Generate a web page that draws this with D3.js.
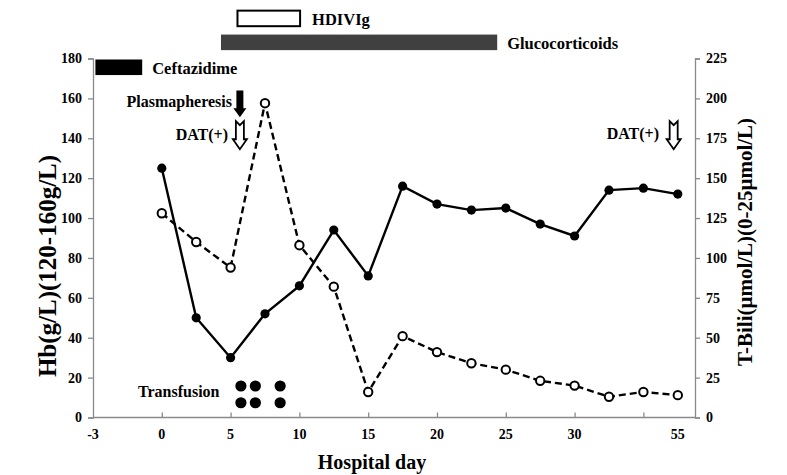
<!DOCTYPE html>
<html><head><meta charset="utf-8">
<script src="https://cdn.jsdelivr.net/npm/d3@7"></script>
<style>
html,body{margin:0;padding:0;background:#fff;}
svg text{font-family:"Liberation Serif","Times New Roman",serif;font-weight:bold;fill:#000;}
</style></head>
<body><svg id="c" width="787" height="475"></svg>
<script>
// ---- data ----
const pointIndex = [0,1,2,3,4,5,6,7,8,9,10,11,12,13,14,15];
const hb   = [125,50,30,52,66,94,71,116,107,104,105,97,91,114,115,112];
const tbil = [128,110,94,197,108,82,16,51,41,34,30,23,20,13,16,14];
const xTickLabels = ["-3","0","5","10","15","20","25","30","55"];
const xTickLabelPos = [-2,0,2,4,6,8,10,12,15];
const xTickMarks = [0,2,4,6,8,10,12,14];
const hbTicks = [0,20,40,60,80,100,120,140,160,180];
const bilTicks = [0,25,50,75,100,125,150,175,200,225];
// treatments: [start,end] in point-index units, vertical slot in Hb units
const treatNames = ["HDIVIg","Glucocorticoids","Ceftazidime"];
const treatStart = [2.2,1.72,-1.93];
const treatEnd   = [4.02,9.75,-0.57];
const treatTop   = [204,192,179.5];
const treatFill  = ["#fff","#404040","#000"];
const transX = [2.3,2.72,3.44,2.3,2.72,3.44];
const transY = [15.8,15.8,15.8,7.4,7.4,7.4];

const svg = d3.select("#c");
const x = d3.scaleLinear().domain([-2,15.5]).range([93,695]);
const yL = d3.scaleLinear().domain([0,180]).range([417.5,58.5]);
const yR = d3.scaleLinear().domain([0,225]).range([417.5,58.5]);
const axisCol = "#8a8a8a";

// axes
const gL = svg.append("g").attr("transform","translate(93,0)")
  .call(d3.axisLeft(yL).tickValues(hbTicks).tickSize(5).tickPadding(6));
const gR = svg.append("g").attr("transform","translate(695,0)")
  .call(d3.axisRight(yR).tickValues(bilTicks).tickSize(5).tickPadding(6));
const gX = svg.append("g").attr("transform","translate(0,417.5)")
  .call(d3.axisBottom(x).tickValues(xTickMarks).tickSize(-5).tickFormat(""));
[gL,gR,gX].forEach(g=>{
  g.selectAll(".domain").attr("stroke",axisCol).attr("stroke-width",1.3);
  g.selectAll(".tick line").attr("stroke",axisCol).attr("stroke-width",1.3);
  g.selectAll("text").attr("font-size",14).attr("font-family","Liberation Serif").attr("font-weight","bold").attr("fill","#000");
});
gX.select(".domain").attr("d","M93,0H695");
svg.append("g").selectAll("text").data(xTickLabels).join("text")
  .attr("x",(d,i)=>x(xTickLabelPos[i])).attr("y",439)
  .attr("text-anchor","middle").attr("font-size",14).text(d=>d);

// axis titles
svg.append("text").attr("transform","translate(56,266) rotate(-90)")
  .attr("text-anchor","middle").attr("font-size",25).text("Hb(g/L)(120-160g/L)");
svg.append("text").attr("transform","translate(752,242) rotate(-90)")
  .attr("text-anchor","middle").attr("font-size",21).text("T-Bili(μmol/L)(0-25μmol/L)");
svg.append("text").attr("x",372).attr("y",469).attr("text-anchor","middle")
  .attr("font-size",20).text("Hospital day");

// treatment bars
const barH = yL(0)-yL(7.8);
treatNames.forEach((n,i)=>{
  svg.append("rect").attr("x",x(treatStart[i])).attr("y",yL(treatTop[i]))
    .attr("width",x(treatEnd[i])-x(treatStart[i])).attr("height",barH)
    .attr("fill",treatFill[i]).attr("stroke","#000").attr("stroke-width",i===0?2:0);
  svg.append("text").attr("x",x(treatEnd[i])+ (i===0?12:10)).attr("y",yL(treatTop[i])+barH-1)
    .attr("font-size",16.5).text(n);
});

// lines
const lineHb = d3.line().x((d,i)=>x(pointIndex[i])).y(d=>yL(d));
const lineBil = d3.line().x((d,i)=>x(pointIndex[i])).y(d=>yR(d));
svg.append("path").attr("d",lineBil(tbil)).attr("fill","none").attr("stroke","#000")
  .attr("stroke-width",2.4).attr("stroke-dasharray","7,4");
svg.append("path").attr("d",lineHb(hb)).attr("fill","none").attr("stroke","#000")
  .attr("stroke-width",2.4);
svg.append("g").selectAll("circle").data(tbil).join("circle")
  .attr("cx",(d,i)=>x(pointIndex[i])).attr("cy",d=>yR(d)).attr("r",4.2)
  .attr("fill","#fff").attr("stroke","#000").attr("stroke-width",2);
svg.append("g").selectAll("circle").data(hb).join("circle")
  .attr("cx",(d,i)=>x(pointIndex[i])).attr("cy",d=>yL(d)).attr("r",4.6)
  .attr("fill","#000");

// transfusion
svg.append("g").selectAll("circle").data(transX).join("circle")
  .attr("cx",d=>x(d)).attr("cy",(d,i)=>yL(transY[i])).attr("r",5.6).attr("fill","#000");
svg.append("text").attr("x",138).attr("y",397).attr("font-size",16).text("Transfusion");

// arrows
function solidArrow(cx,y0,y1){
  const sw=3.5, hw=6.5, hl=9;
  return `M${cx-sw},${y0}H${cx+sw}V${y1-hl}H${cx+hw}L${cx},${y1}L${cx-hw},${y1-hl}H${cx-sw}Z`;
}
function hollowArrow(cx,y0,y1){
  const sw=4, hw=7, hl=10, notch=4;
  return `M${cx-sw},${y0}L${cx},${y0+notch}L${cx+sw},${y0}V${y1-hl}H${cx+hw}L${cx},${y1}L${cx-hw},${y1-hl}H${cx-sw}Z`;
}
svg.append("path").attr("d",solidArrow(x(2.27),yL(164),yL(150.5))).attr("fill","#000");
svg.append("path").attr("d",hollowArrow(x(2.27),yL(148.6),yL(134.5)))
  .attr("fill","#fff").attr("stroke","#000").attr("stroke-width",1.8);
svg.append("path").attr("d",hollowArrow(x(14.88),yL(148.6),yL(134.5)))
  .attr("fill","#fff").attr("stroke","#000").attr("stroke-width",1.8);
svg.append("text").attr("x",232).attr("y",107).attr("text-anchor","end").attr("font-size",16).text("Plasmapheresis");
svg.append("text").attr("x",228).attr("y",140).attr("text-anchor","end").attr("font-size",16).text("DAT(+)");
svg.append("text").attr("x",659).attr("y",139).attr("text-anchor","end").attr("font-size",16).text("DAT(+)");
</script></body></html>
